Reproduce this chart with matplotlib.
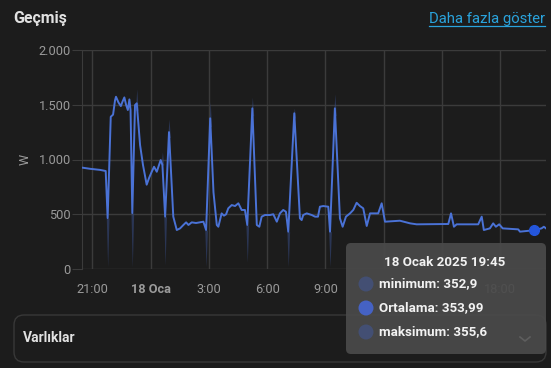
import matplotlib
matplotlib.use("Agg")
import matplotlib.pyplot as plt
import numpy as np
from matplotlib.patches import FancyBboxPatch, Circle
from matplotlib.transforms import IdentityTransform

plt.rcParams['font.family'] = ['Roboto', 'DejaVu Sans']

# ---- data (hours relative to 18 Jan 00:00) ----
hours = [-3.49, -3.11, -2.60, -2.31, -2.21, -2.05, -1.93, -1.83, -1.78, -1.65,
         -1.53, -1.44, -1.35, -1.26, -1.17, -1.09, -1.03, -0.94, -0.80, -0.71,
         -0.54, -0.39, -0.20, -0.08, 0.06, 0.18, 0.32, 0.52, 0.61, 0.75,
         0.95, 1.17, 1.35, 1.52, 1.69, 1.83, 1.95, 2.12, 2.34, 2.72,
         2.86, 3.07, 3.24, 3.41, 3.49, 3.66, 3.78, 3.89, 4.00, 4.18,
         4.35, 4.52, 4.69, 4.86, 4.98, 5.24, 5.47, 5.60, 5.72, 5.89,
         6.15, 6.32, 6.50, 6.66, 6.83, 6.97, 7.09, 7.40, 7.69, 7.78,
         7.86, 8.04, 8.30, 8.47, 8.62, 8.72, 8.89, 9.15, 9.24, 9.49,
         9.75, 9.89, 10.06, 10.27, 10.44, 10.61, 10.78, 10.95, 11.13, 11.30,
         11.72, 11.90, 12.07, 12.84, 13.36, 13.70, 15.33, 15.47, 15.62, 15.76,
         16.87, 17.05, 17.16, 17.47, 17.64, 17.78, 17.95, 18.13, 18.93, 19.02,
         19.75, 20.13, 20.25, 20.36]
mean_w = [925, 915, 905, 895, 465, 1390, 1410, 1540, 1573, 1520,
          1488, 1530, 1567, 1500, 1452, 1549, 1450, 511, 1497, 1513,
          1132, 950, 770, 830, 888, 934, 888, 995, 950, 478,
          1250, 478, 356, 371, 402, 426, 402, 426, 420, 432,
          356, 1376, 700, 402, 386, 508, 487, 500, 554, 584,
          575, 600, 539, 539, 402, 1467, 402, 386, 478, 493,
          493, 500, 432, 508, 539, 523, 341, 1422, 463, 447,
          493, 508, 493, 478, 478, 569, 575, 569, 341, 1467,
          463, 386, 478, 508, 540, 605, 575, 554, 393, 508,
          508, 600, 432, 441, 417, 408, 411, 508, 386, 408,
          408, 478, 356, 371, 417, 386, 408, 371, 362, 341,
          354, 371, 386, 371]

# min/max envelope events (time, low, high)
band_hours = [-2.21, -0.94, -0.71, 0.61, 0.75, 0.95, 2.86, 3.07, 4.98, 5.24,
              7.09, 7.40, 9.24, 9.49]
band_low = [20, 15, 1450, 950, 35, 1200, 20, 1300, 60, 1400,
            20, 1380, 20, 1400]
band_high = [465, 511, 1645, 1070, 478, 1370, 356, 1530, 402, 1570,
             341, 1470, 341, 1600]

yticks = [0, 500, 1000, 1500, 2000]
ytick_labels = ["0", "500", "1.000", "1.500", "2.000"]
xticks = [-3, 0, 3, 6, 9, 12, 15, 18]
xtick_labels = ["21:00", "18 Oca", "3:00", "6:00", "9:00", "12:00", "15:00", "18:00"]
hidden_labels = ["12:00", "15:00"]   # covered by the tooltip in the reference

tooltip_title = "18 Ocak 2025 19:45"
tooltip_rows = ["minimum: 352,9", "Ortalama: 353,99", "maksimum: 355,6"]
sel_hour = 19.75
sel_value = 353.99

BG = "#1c1c1c"
GRID = "#3b3b3b"
LINE = "#4a72d6"
TXT = "#9a9a9a"

W, H = 551, 368
fig = plt.figure(figsize=(W / 100, H / 100), dpi=100, facecolor=BG)

def P(x, y):
    return (x, H - y)

ax = fig.add_axes([82 / W, 1 - 269 / H, (546 - 82) / W, (269 - 50) / H])
ax.set_facecolor(BG)
ax.set_xlim(-3.53, 20.36)
ax.set_ylim(0, 2000)

# envelope spikes
for t, lo, hi in zip(band_hours, band_low, band_high):
    if lo < 500:
        ax.fill_between([t - 0.07, t, t + 0.07], [hi, lo, hi], [hi, hi, hi],
                        color="#34477a", alpha=0.6, lw=0, zorder=2)
    else:
        ax.fill_between([t - 0.07, t, t + 0.07], [lo, hi, lo], [lo, lo, lo],
                        color="#34477a", alpha=0.6, lw=0, zorder=2)

ax.plot(hours, mean_w, color=LINE, lw=1.4, zorder=3, solid_joinstyle="round")
ax.plot([sel_hour], [sel_value], 'o', ms=7, color="#2456dc", zorder=4)

ax.set_yticks(yticks)
ax.set_yticklabels(ytick_labels)
ax.set_xticks(xticks)
ax.set_xticklabels(xtick_labels)
for lab in ax.get_xticklabels():
    if lab.get_text() == "18 Oca":
        lab.set_fontweight("bold")
        lab.set_color("#b0b0b0")
    if lab.get_text() in hidden_labels:
        lab.set_visible(False)
ax.grid(True, color=GRID, lw=1)
ax.tick_params(axis='y', length=7, color=GRID, labelcolor=TXT, labelsize=9.2, pad=1)
ax.tick_params(axis='x', length=0, labelcolor=TXT, labelsize=9.2, pad=10)
for s in ["top", "right", "bottom"]:
    ax.spines[s].set_visible(False)
ax.spines["left"].set_color(GRID)
ax.set_ylabel("W", color=TXT, fontsize=9, labelpad=5)

# header
fig.text(13 / W, 1 - 19 / H, "Geçmiş", color="#e1e1e1", fontsize=11.5,
         fontweight="bold", va="center", ha="left")
fig.text(545 / W, 1 - 19 / H, "Daha fazla göster", color="#2aa3dc",
         fontsize=10.7, va="center", ha="right")
fig.add_artist(plt.Line2D([429 / W, 545 / W], [1 - 25.5 / H, 1 - 25.5 / H],
                          color="#2aa3dc", lw=0.9, transform=fig.transFigure))

# Varlıklar box
box = FancyBboxPatch(P(14, 362), 532, 47, boxstyle="round,pad=0,rounding_size=10",
                     transform=IdentityTransform(), facecolor=BG, edgecolor="#383838",
                     lw=1, zorder=5)
fig.add_artist(box)
fig.text(23 / W, 1 - 338 / H, "Varlıklar", color="#e1e1e1", fontsize=10,
         fontweight="bold", va="center", ha="left", zorder=6)

# tooltip
tip = FancyBboxPatch(P(346, 354), 200, 111, boxstyle="round,pad=0,rounding_size=5",
                     transform=IdentityTransform(), facecolor="#4a4a4a", edgecolor="none",
                     alpha=0.93, zorder=10)
fig.add_artist(tip)
fig.text(445 / W, 1 - 262 / H, tooltip_title, color="#f2f2f2", fontsize=9.6,
         fontweight="bold", va="center", ha="center", zorder=11)
row_y = [284, 308, 332]
dot_cols = ["#434f73", "#4562c4", "#434f73"]
for yy, txt, c in zip(row_y, tooltip_rows, dot_cols):
    fig.add_artist(Circle(P(366, yy), 7.5, transform=IdentityTransform(),
                          facecolor=c, edgecolor="none", zorder=11))
    fig.text(379 / W, 1 - yy / H, txt, color="#f2f2f2", fontsize=9.6,
             fontweight="semibold", va="center", ha="left", zorder=11)
fig.add_artist(plt.Line2D([520 / W, 525 / W, 530 / W],
                          [1 - 337 / H, 1 - 341 / H, 1 - 337 / H],
                          color="#5e5e5e", lw=1.2, transform=fig.transFigure, zorder=11))

fig.savefig("out.png", dpi=100, facecolor=BG)
